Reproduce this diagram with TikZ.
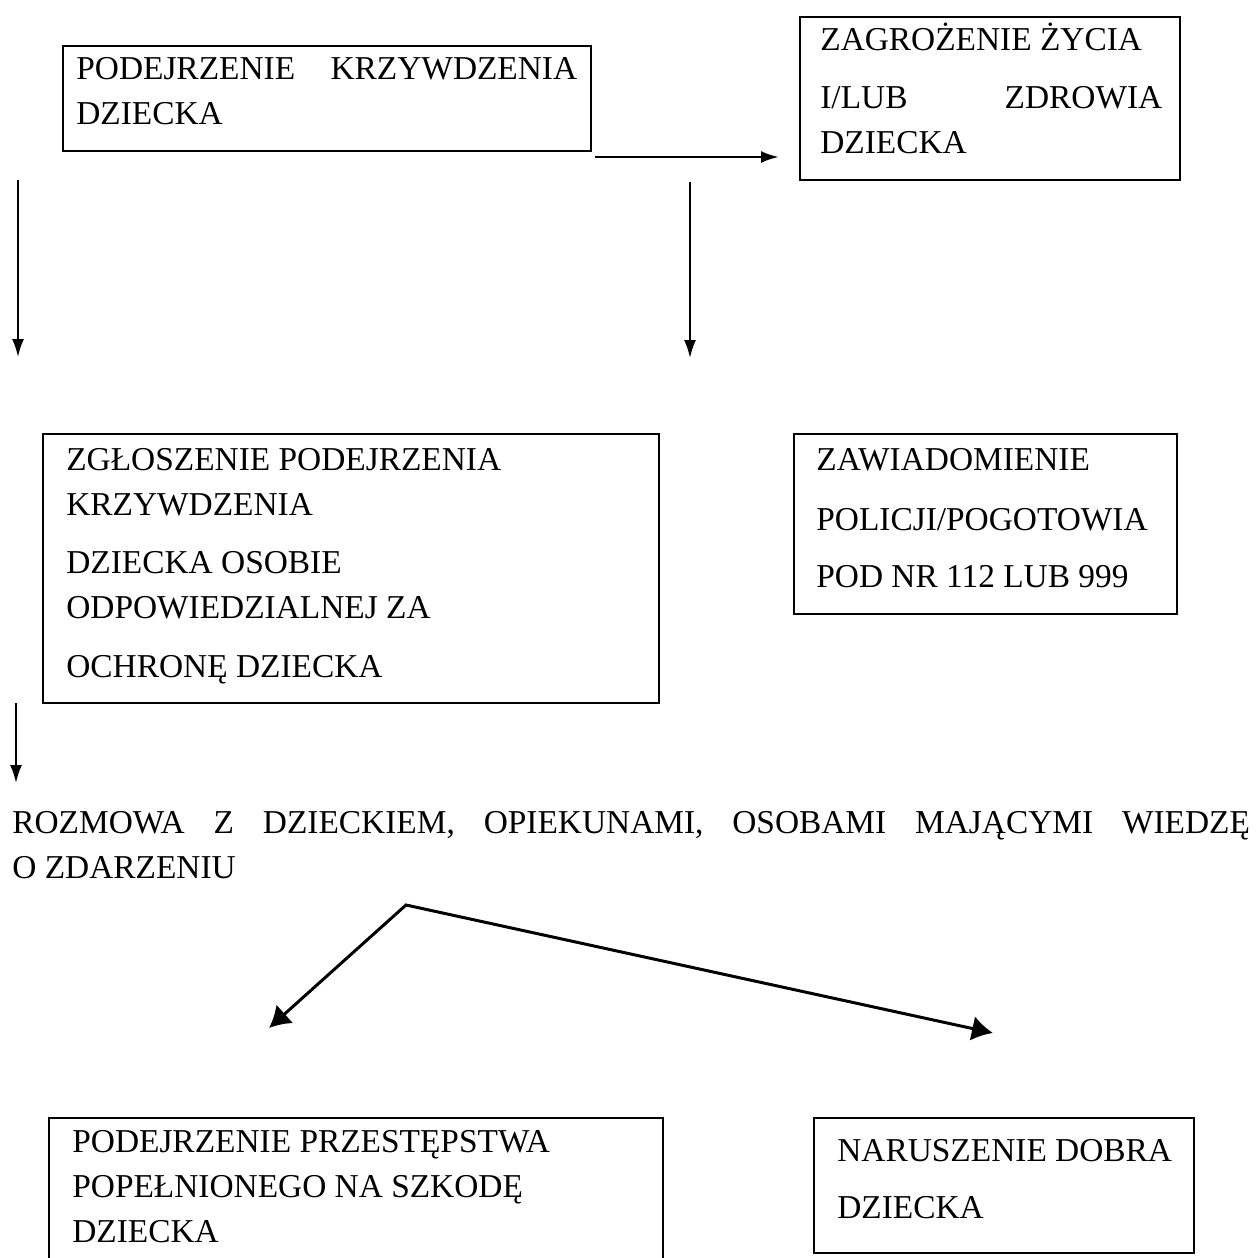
\documentclass[tikz,border=0pt]{standalone}
\usepackage{fontspec}
\setmainfont{Liberation Serif}
\usetikzlibrary{arrows.meta}
\tikzset{
  box/.style={draw, line width=1.2pt, anchor=north west, inner sep=0pt},
  boxtext/.style={anchor=north west, inner sep=0pt, align=left, font=\fontsize{19}{25.6}\selectfont},
  arrow/.style={line width=1.1pt, -{Latex[length=0.36cm,width=0.24cm]}},
  bigarrow/.style={line width=1.7pt, {Latex[length=0.42cm,width=0.5cm]}-{Latex[length=0.42cm,width=0.5cm]}}
}
\newcommand{\firstline}{\rule{0pt}{1em}}
\begin{document}
\begin{tikzpicture}[x=0.02cm, y=-0.02cm]
    \clip (0,0) rectangle (1255,1258);
    % ramki
    \node[box, minimum width=10.56cm, minimum height=2.1cm] (podejrzenie) at (62,45) {};
    \node[box, minimum width=7.6cm, minimum height=3.26cm] (zagrozenie) at (799,16) {};
    \node[box, minimum width=12.32cm, minimum height=5.38cm] (zgloszenie) at (42,433) {};
    \node[box, minimum width=7.66cm, minimum height=3.6cm] (zawiadomienie) at (793,433) {};
    \node[box, minimum width=12.28cm, minimum height=4cm] (przestepstwo) at (48,1117) {};
    \node[box, minimum width=7.6cm, minimum height=2.7cm] (naruszenie) at (813,1117) {};
    % teksty
    \node[boxtext] (podejrzenietxt) at (76,45.7) {\firstline\makebox[10.02cm][s]{PODEJRZENIE KRZYWDZENIA}\\DZIECKA};
    \node[boxtext] (zagrozenietxt) at (820,16.7) {\firstline ZAGROŻENIE ŻYCIA\\[0.26cm]\makebox[6.84cm][s]{I/LUB ZDROWIA}\\DZIECKA};
    \node[boxtext] (zgloszenietxt) at (66,436.7) {\firstline ZGŁOSZENIE PODEJRZENIA\\KRZYWDZENIA\\[0.26cm]DZIECKA OSOBIE\\ODPOWIEDZIALNEJ ZA\\[0.28cm]OCHRONĘ DZIECKA};
    \node[boxtext] (zawiadomienietxt) at (816,436.7) {\firstline ZAWIADOMIENIE\\[0.3cm]POLICJI/POGOTOWIA\\[0.24cm]POD NR 112 LUB 999};
    \node[boxtext] (rozmowa) at (12,799.7) {\firstline\makebox[24.76cm][s]{ROZMOWA Z DZIECKIEM, OPIEKUNAMI, OSOBAMI MAJĄCYMI WIEDZĘ}\\O ZDARZENIU};
    \node[boxtext] (przestepstwotxt) at (72,1118.7) {\firstline PODEJRZENIE PRZESTĘPSTWA\\POPEŁNIONEGO NA SZKODĘ\\DZIECKA};
    \node[boxtext] (naruszenietxt) at (837,1127.7) {\firstline NARUSZENIE DOBRA\\[0.24cm]DZIECKA};
    % strzalki
    \coordinate (h1) at (595,157);
    \coordinate (h2) at (779,157);
    \coordinate (l1) at (18,180);
    \coordinate (l2) at (18,357);
    \coordinate (m1) at (690,182);
    \coordinate (m2) at (690,358);
    \coordinate (d1) at (16,703);
    \coordinate (d2) at (16,783);
    \coordinate (szczyt) at (406,905);
    \coordinate (lewo) at (269,1028);
    \coordinate (prawo) at (993,1033);
    \draw[arrow, line width=1.5pt] (h1) -- (h2);
    \draw[arrow] (l1) -- (l2);
    \draw[arrow] (m1) -- (m2);
    \draw[arrow] (d1) -- (d2);
    \draw[bigarrow] (lewo) -- (szczyt) -- (prawo);
\end{tikzpicture}
\end{document}
